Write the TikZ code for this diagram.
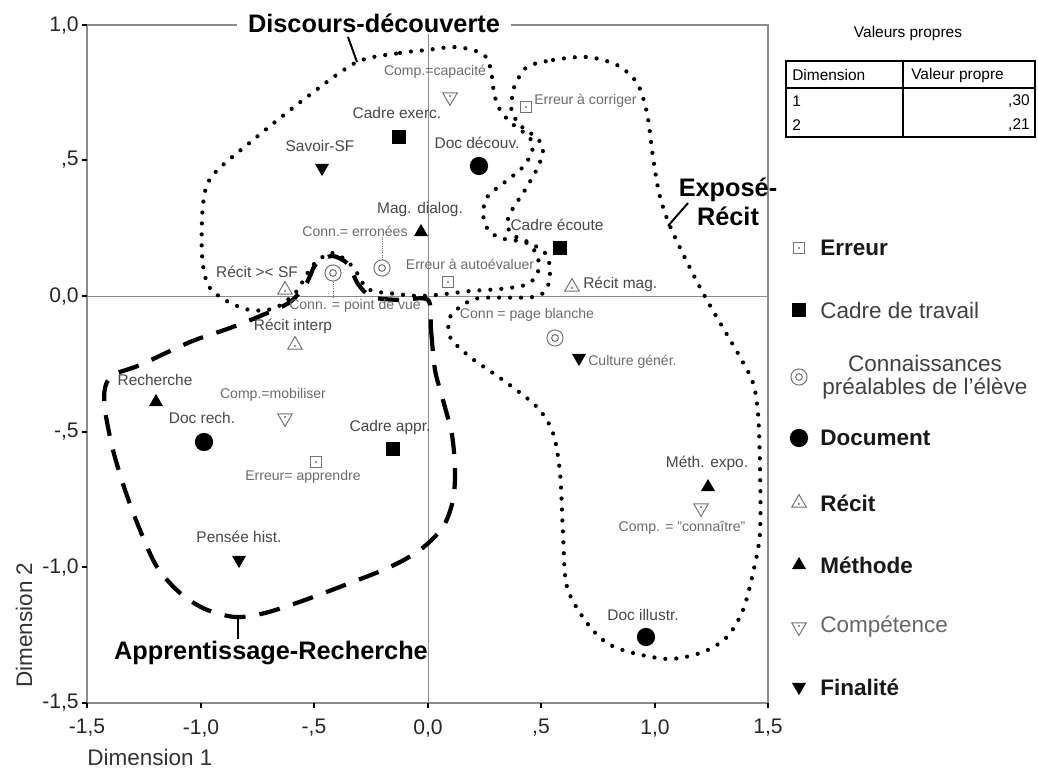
\documentclass[tikz,border=0pt]{standalone}
\usepackage{fontspec}
\setmainfont{Liberation Sans}
\usepackage{tikz}
\usetikzlibrary{shapes.geometric,calc}
\tikzset{
  afclbl/.style={font=\fontsize{11}{13}\selectfont, text=black!72, inner sep=0pt},
  afcsmall/.style={font=\fontsize{10}{12}\selectfont, text=black!58, inner sep=0pt},
  afczone/.style={font=\fontsize{18}{20.5}\selectfont\bfseries, inner sep=1pt},
  afctick/.style={font=\fontsize{15}{17}\selectfont, text=black!85, inner sep=0pt},
  afcaxis/.style={font=\fontsize{16}{18}\selectfont, text=black!80, inner sep=0pt},
  afcleg/.style={font=\fontsize{16}{16.5}\selectfont, text=black!75, inner sep=0pt, anchor=west},
  afclegb/.style={afcleg, font=\fontsize{16}{16.5}\selectfont\bfseries, text=black!90},
  afctab/.style={font=\fontsize{11}{13}\selectfont, inner sep=0pt},
  afcdots/.style={line width=3pt, line cap=round, dash pattern=on 0pt off 7.8pt},
  afcdash/.style={line width=3pt, dash pattern=on 15pt off 10pt},
  afcleader/.style={line width=1.4pt},
  afcdotlead/.style={densely dotted, black!55, line width=0.6pt},
  mkcadre/.style={rectangle, fill=black, minimum size=9.5pt, inner sep=0pt},
  mkdoc/.style={circle, fill=black, minimum size=13pt, inner sep=0pt},
  mkmeth/.style={regular polygon, regular polygon sides=3, fill=black, minimum size=11.5pt, inner sep=0pt},
  mkfin/.style={mkmeth, shape border rotate=180},
  mkrecit/.style={regular polygon, regular polygon sides=3, draw=black!55, line width=0.7pt, minimum size=12pt, inner sep=0pt,
    path picture={\fill[black!55] (path picture bounding box.south) ++(0,2.3pt) circle (0.8pt);}},
  mkcomp/.style={regular polygon, regular polygon sides=3, shape border rotate=180, draw=black!55, line width=0.7pt, minimum size=12pt, inner sep=0pt,
    path picture={\fill[black!55] (path picture bounding box.north) ++(0,-2.3pt) circle (0.8pt);}},
  mkerreur/.style={rectangle, draw=black!55, line width=0.7pt, minimum size=8.5pt, inner sep=0pt,
    path picture={\fill[black!55] (path picture bounding box.center) circle (0.8pt);}},
  mkconn/.style={circle, draw=black!55, line width=0.7pt, minimum size=11.5pt, inner sep=0pt,
    path picture={\draw[black!55, line width=0.7pt] (path picture bounding box.center) circle (2.4pt);}}
}

\begin{document}
\begin{tikzpicture}[x=0.025cm, y=-0.025cm]
\useasboundingbox (0,0) rectangle (1038,769);
% frame and axes
\draw[black!45, line width=1pt] (87,25) rectangle (768,703);
\draw[black!45, line width=0.7pt] (87,296) -- (768,296);
\draw[black!45, line width=0.7pt] (428,25) -- (428,703);
\foreach \ty/\tl in {25/{1,0}, 160/{,5}, 296/{0,0}, 432/{-,5}, 567/{-1,0}, 703/{-1,5}} {
  \draw[line width=1.2pt] (82,\ty) -- (87,\ty);
  \node[afctick, anchor=east] (yt\ty) at (79,\ty) {\tl};
}
\foreach \tx/\tl in {87/{-1,5}, 201/{-1,0}, 314/{-,5}, 428/{0,0}, 541/{,5}, 655/{1,0}, 768/{1,5}} {
  \draw[line width=1.2pt] (\tx,703) -- (\tx,708);
  \node[afctick] (xt\tx) at (\tx,728) {\tl};
}
\node[afcaxis] (dim1) at (150,757) {Dimension 1};
\node[afcaxis, rotate=90] (dim2) at (24,625) {Dimension 2};

% zones
\draw[afcdots] plot[smooth cycle, tension=0.5] coordinates {
  (357,62) (400,53) (427,50) (453,47) (473,50) (487,58) (492,77) (494,93) (499,108)
  (510,122) (530,138) (532,152) (522,168) (505,182) (488,196) (483,212) (487,228)
  (500,238) (527,243) (538,258) (537,275) (525,285) (500,289) (470,291) (445,294)
  (420,296) (397,294) (368,289) (353,267) (333,253) (313,265) (296,292) (275,308)
  (250,310) (225,300) (208,285) (202,255) (203,205) (212,176) (253,140) (307,97)};
\draw[afcdots] plot[smooth cycle, tension=0.5] coordinates {
  (527,67) (553,60) (587,57) (617,65) (637,83) (647,113) (653,157) (660,197)
  (673,233) (703,293) (740,357) (753,383) (758,413) (760,467) (760,533) (753,573)
  (743,610) (727,637) (703,652) (670,659) (633,653) (607,643) (587,623) (567,587)
  (563,533) (560,473) (553,433) (537,407) (503,380) (470,357) (450,337) (450,317)
  (463,305) (480,298) (533,297) (547,288) (550,268) (545,253) (530,243) (513,235)
  (507,224) (512,210) (525,190) (538,167) (543,150) (537,138) (522,127) (512,113)
  (512,98) (515,85)};
\draw[afcdash] plot[smooth cycle, tension=0.5] coordinates {
  (428,300) (431,330) (435,370) (443,400) (452,435) (455,470) (453,500) (443,527)
  (420,550) (390,567) (350,583) (305,600) (265,613) (235,617) (205,609) (180,593)
  (157,567) (140,530) (125,490) (113,450) (105,410) (105,388) (113,375) (140,365)
  (190,342) (230,328) (265,314) (290,302) (306,284) (316,264) (332,256) (348,264)
  (358,284) (372,297) (400,300)};

% Discours-decouverte points
\node[afcsmall] (capl) at (435,72) {Comp.=capacité};
\node[mkcomp] (cap) at (450,97) {};
\node[afclbl] (exercl) at (397,113) {Cadre exerc.};
\node[mkcadre] (exerc) at (399,137) {};
\node[afclbl] (savoirl) at (320,146) {Savoir-SF};
\node[mkfin] (savoir) at (322,168) {};
\node[afclbl] (decouvl) at (477,143) {Doc découv.};
\node[mkdoc] (decouv) at (479,166) {};
\node[afclbl] (dialogl) at (420,209) {Mag. dialog.};
\node[mkmeth] (dialog) at (421,232) {};
\node[afcsmall] (errol) at (355,231) {Conn.= erronées};
\node[mkconn] (erro) at (382,268) {};
\draw[afcdotlead] (errol.south -| erro) -- (erro.north);
\node[afcsmall] (autol) at (470,264) {Erreur à autoévaluer};
\node[mkerreur] (auto) at (448,282) {};
\node[afclbl] (recsfl) at (257,272) {Récit >< SF};
\node[mkrecit] (recsf) at (285,290) {};
\node[mkconn] (pdv) at (333,273) {};
\node[afcsmall] (pdvl) at (355,306) {Conn. = point de vue};
\draw[afcdotlead] (pdv.south) -- (pdvl.north -| pdv);

% Apprentissage-Recherche points
\node[afclbl] (interpl) at (293,326) {Récit interp};
\node[mkrecit] (interp) at (295,345) {};
\node[afcsmall] (mobill) at (273,395) {Comp.=mobiliser};
\node[mkcomp] (mobil) at (285,418) {};
\node[afclbl] (rechl) at (155,380) {Recherche};
\node[mkmeth] (rech) at (156,402) {};
\node[afclbl] (docrechl) at (202,418) {Doc rech.};
\node[mkdoc] (docrech) at (204,442) {};
\node[mkerreur] (appr) at (316,462) {};
\node[afcsmall] (apprl) at (303,477) {Erreur= apprendre};
\node[afclbl] (cadapprl) at (390,427) {Cadre appr.};
\node[mkcadre] (cadappr) at (393,449) {};
\node[afclbl] (penseel) at (239,537) {Pensée hist.};
\node[mkfin] (pensee) at (239,560) {};

% Expose-Recit points
\node[mkerreur] (corr) at (526,107) {};
\node[afcsmall, anchor=west] (corrl) at (534,101) {Erreur à corriger};
\node[afclbl] (ecoutel) at (557,225) {Cadre écoute};
\node[mkcadre] (ecoute) at (560,248) {};
\node[mkrecit] (recmag) at (572,287) {};
\node[afclbl, anchor=west] (recmagl) at (583,284) {Récit mag.};
\node[afcsmall] (blanchel) at (527,315) {Conn = page blanche};
\node[mkconn] (blanche) at (555,338) {};
\node[mkfin] (culture) at (579,358) {};
\node[afcsmall, anchor=west] (culturel) at (588,362) {Culture génér.};
\node[afclbl] (expol) at (707,463) {Méth. expo.};
\node[mkmeth] (expo) at (708,487) {};
\node[mkcomp] (conna) at (701,508) {};
\node[afcsmall] (connal) at (682,528) {Comp. = "connaître"};
\node[afclbl] (illustrl) at (643,615) {Doc illustr.};
\node[mkdoc] (illustr) at (646,637) {};

% zone names
\node[afczone, fill=white, inner xsep=8pt] (discours) at (374,23) {Discours-découverte};
\coordinate (dcfoot) at (348,37);
\coordinate (dctip) at (357,62);
\draw[afcleader] (dcfoot) -- (dctip);
\node[afczone, align=center] (expose) at (728,202) {Exposé-\\Récit};
\coordinate (extip) at (668,226);
\coordinate (exfoot) at (688,203);
\draw[afcleader] (extip) -- (exfoot);
\node[afczone] (apprent) at (271,653) {Apprentissage-Recherche};
\coordinate (aptip) at (238,616);
\draw[afcleader] (aptip) -- (aptip |- apprent.north);

% legend
\node[mkerreur] (lgerreur) at (799,248) {};
\node[afclegb] (lterreur) at (820,248) {Erreur};
\node[mkcadre] (lgcadre) at (799,310) {};
\node[afcleg] (ltcadre) at (820,310) {Cadre de travail};
\node[mkconn] (lgconn) at (799,377) {};
\node[afcleg, anchor=center, align=center] (ltconn) at (925,377) {Connaissances\\préalables de l'élève};
\node[mkdoc] (lgdoc) at (799,438) {};
\node[afclegb] (ltdoc) at (820,438) {Document};
\node[mkrecit] (lgrecit) at (799,503) {};
\node[afclegb] (ltrecit) at (820,503) {Récit};
\node[mkmeth] (lgmeth) at (799,565) {};
\node[afclegb] (ltmeth) at (820,565) {Méthode};
\node[mkcomp] (lgcomp) at (799,627) {};
\node[afcleg, text=black!60] (ltcomp) at (820,627) {Compétence};
\node[mkfin] (lgfin) at (799,687) {};
\node[afclegb] (ltfin) at (820,687) {Finalité};

% eigenvalue table
\node[afctab] (vptitle) at (908,33) {Valeurs propres};
\draw[line width=1.3pt] (786,61) rectangle (1035,137);
\draw[line width=1.3pt] (903,61) -- (903,137);
\draw[line width=1pt] (786,88) -- (1035,88);
\node[afctab, anchor=west] (vpdim) at (792,75) {Dimension};
\node[afctab, anchor=west] (vpval) at (911,75) {Valeur propre};
\node[afctab, anchor=west] (vpone) at (792,101) {1};
\node[afctab, anchor=west] (vptwo) at (792,125) {2};
\node[afctab, anchor=east] (vponev) at (1030,101) {,30};
\node[afctab, anchor=east] (vptwov) at (1030,125) {,21};
\end{tikzpicture}
\end{document}
